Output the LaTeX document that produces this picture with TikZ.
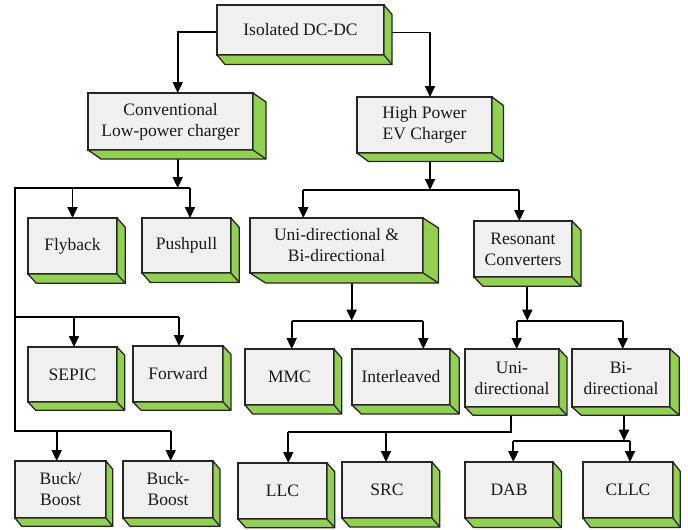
\documentclass[tikz,border=0pt]{standalone}
\usepackage{fontspec}
\setmainfont{Liberation Serif}
\usetikzlibrary{arrows.meta,backgrounds,calc}
\definecolor{facegray}{HTML}{F0F0F0}
\definecolor{sidegreen}{HTML}{92D050}
\definecolor{edgegray}{HTML}{262626}
\begin{document}
\begin{tikzpicture}[x=1pt,y=-1pt,
  cube/.style={draw=edgegray, fill=facegray, line width=1.3pt, outer sep=0pt,
    inner sep=1pt, align=center, font=\fontsize{17.5}{21}\selectfont, text=black!90},
  side/.style={fill=sidegreen, draw=edgegray, line width=1.3pt, line join=round},
  link/.style={draw=black, line width=1.8pt},
  arr/.style={link, -{Triangle[length=11pt,width=10pt]}},
]
\useasboundingbox (0,0) rectangle (688,530);

% ---- front faces ----
\node[cube, minimum width=167, minimum height=50] (iso)   at (300.5,30)  {Isolated DC-DC};
\node[cube, minimum width=165, minimum height=57] (conv)  at (170.5,121.5) {Conventional\\Low-power charger};
\node[cube, minimum width=135, minimum height=56] (hp)    at (424.5,125) {High Power\\EV Charger};
\node[cube, minimum width=89,  minimum height=56] (fly)   at (72.5,246)  {Flyback};
\node[cube, minimum width=89,  minimum height=55] (push)  at (186.5,245.5) {Pushpull};
\node[cube, minimum width=173, minimum height=55] (unibi) at (336.5,245.5) {Uni-directional \&\\Bi-directional};
\node[cube, minimum width=98,  minimum height=56] (res)   at (523,249)   {Resonant\\Converters};
\node[cube, minimum width=89,  minimum height=55] (sepic) at (72.5,374.5) {SEPIC};
\node[cube, minimum width=90,  minimum height=56] (fwd)   at (178,374)   {Forward};
\node[cube, minimum width=89,  minimum height=56] (mmc)   at (289.5,377) {MMC};
\node[cube, minimum width=98,  minimum height=56] (inter) at (401,377)   {Interleaved};
\node[cube, minimum width=94,  minimum height=58] (uni)   at (512,378)   {Uni-\\directional};
\node[cube, minimum width=98,  minimum height=58] (bi)    at (621,378)   {Bi-\\directional};
\node[cube, minimum width=91,  minimum height=57] (bb1)   at (60.5,489.5) {Buck/\\Boost};
\node[cube, minimum width=90,  minimum height=57] (bb2)   at (168,489.5) {Buck-\\Boost};
\node[cube, minimum width=89,  minimum height=56] (llc)   at (282.5,491) {LLC};
\node[cube, minimum width=90,  minimum height=56] (src)   at (387,490)   {SRC};
\node[cube, minimum width=88,  minimum height=56] (dab)   at (509,490)   {DAB};
\node[cube, minimum width=90,  minimum height=56] (cllc)  at (628,490)   {CLLC};

% ---- extruded green sides ----
\foreach \n/\dx/\dy in {iso/8/9.5, conv/13/9, hp/11.5/8.5, fly/8.3/9.3, push/8.3/9.5,
    unibi/15.5/10, res/9/9.3, sepic/7.7/8.3, fwd/8/8.3, mmc/7.7/9, inter/9.3/9,
    uni/8/8.3, bi/9.3/8.3, bb1/6.7/8.3, bb2/7/8.3, llc/7.7/8.7, src/7.7/9,
    dab/8.5/9.5, cllc/7.3/9.5} {
  \filldraw[side] (\n.north east) -- ++(\dx,\dy) -- ([shift={(\dx,\dy)}]\n.south east)
    -- ([shift={(\dx,\dy)}]\n.south west) -- (\n.south west) -- (\n.south east) -- cycle;
  \draw[side, fill=none] (\n.south east) -- ++(\dx,\dy);
}

% ---- connectors ----
\begin{scope}[on background layer]
  % root
  \coordinate (convin) at ($(conv.north)+(7.2,0)$);
  \coordinate (hpin)   at ($(hp.north)+(5.5,0)$);
  \draw[arr] ([shift={(0,2)}]iso.west) -| (convin);
  \draw[arr] ([shift={(0,2.5)}]iso.east) -| (hpin);

  % conventional branch
  \coordinate (convout) at ($(conv.south)+(7.2,0)$);
  \coordinate (cj)     at ($(conv.south)+(7.2,38)$);
  \coordinate (pushin) at ($(push.north)+(3.5,0)$);
  \coordinate (sepin)  at ($(sepic.north)+(1.5,0)$);
  \coordinate (fwdin)  at ($(fwd.north)+(1,0)$);
  \coordinate (bb1in)  at ($(bb1.north)+(-3.8,0)$);
  \coordinate (bb2in)  at ($(bb2.north)+(2.7,0)$);
  \coordinate (rail)   at (15,188);
  \coordinate (bus2)   at (15,316.7);
  \coordinate (bus3)   at (15,431);
  \draw[arr] (convout) -- (cj);
  \draw[link] (pushin |- cj) -- (rail) -- (bus3) -- (bb2in |- bus3);
  \draw[link] (bus2) -- (fwdin |- bus2);
  \draw[arr] (fly.north |- cj) -- (fly.north);
  \draw[arr] (pushin |- cj) -- (pushin);
  \draw[arr] (sepin |- bus2) -- (sepin);
  \draw[arr] (fwdin |- bus2) -- (fwdin);
  \draw[arr] (bb1in |- bus3) -- (bb1in);
  \draw[arr] (bb2in |- bus3) -- (bb2in);

  % high power branch
  \coordinate (hpout) at ($(hp.south)+(5.5,0)$);
  \coordinate (hj)    at ($(hp.south)+(5.5,37)$);
  \coordinate (ubin)  at ($(unibi.north)+(-33.2,0)$);
  \coordinate (resin) at ($(res.north)+(-3.7,0)$);
  \draw[arr] (hpout) -- (hj);
  \draw[link] (ubin |- hj) -- (resin |- hj);
  \draw[arr] (ubin |- hj) -- (ubin);
  \draw[arr] (resin |- hj) -- (resin);

  % uni/bi-directional branch
  \coordinate (ubout)   at ($(unibi.south)+(15.2,0)$);
  \coordinate (ubj)     at ($(unibi.south)+(15.2,47.7)$);
  \coordinate (mmcin)   at ($(mmc.north)+(2.2,0)$);
  \coordinate (interin) at ($(inter.north)+(22.3,0)$);
  \draw[arr] (ubout) -- (ubj);
  \draw[link] (mmcin |- ubj) -- (interin |- ubj);
  \draw[arr] (mmcin |- ubj) -- (mmcin);
  \draw[arr] (interin |- ubj) -- (interin);

  % resonant branch
  \coordinate (resout) at ($(res.south)+(4.3,0)$);
  \coordinate (rj)     at ($(res.south)+(4.3,43.7)$);
  \coordinate (uniin)  at ($(uni.north)+(4.7,0)$);
  \coordinate (biin)   at ($(bi.north)+(1.7,0)$);
  \draw[arr] (resout) -- (rj);
  \draw[link] (uniin |- rj) -- (biin |- rj);
  \draw[arr] (uniin |- rj) -- (uniin);
  \draw[arr] (biin |- rj) -- (biin);

  % unidirectional resonant
  \coordinate (uniout) at ($(uni.south)+(-1,0)$);
  \coordinate (uj)     at ($(uni.south)+(-1,25.3)$);
  \coordinate (llcin)  at ($(llc.north)+(5.8,0)$);
  \coordinate (srcin)  at ($(src.north)+(-1,0)$);
  \draw[link] (uniout) -- (uj) -- (llcin |- uj);
  \draw[arr] (llcin |- uj) -- (llcin);
  \draw[arr] (srcin |- uj) -- (srcin);

  % bidirectional resonant
  \coordinate (biout)  at ($(bi.south)+(3,0)$);
  \coordinate (bj)     at ($(bi.south)+(3,33.7)$);
  \coordinate (dabin)  at ($(dab.north)+(4.3,0)$);
  \coordinate (cllcin) at ($(cllc.north)+(2,0)$);
  \draw[arr] (biout) -- (bj);
  \draw[link] (dabin |- bj) -- (cllcin |- bj);
  \draw[arr] (dabin |- bj) -- (dabin);
  \draw[arr] (cllcin |- bj) -- (cllcin);
\end{scope}
\end{tikzpicture}
\end{document}
